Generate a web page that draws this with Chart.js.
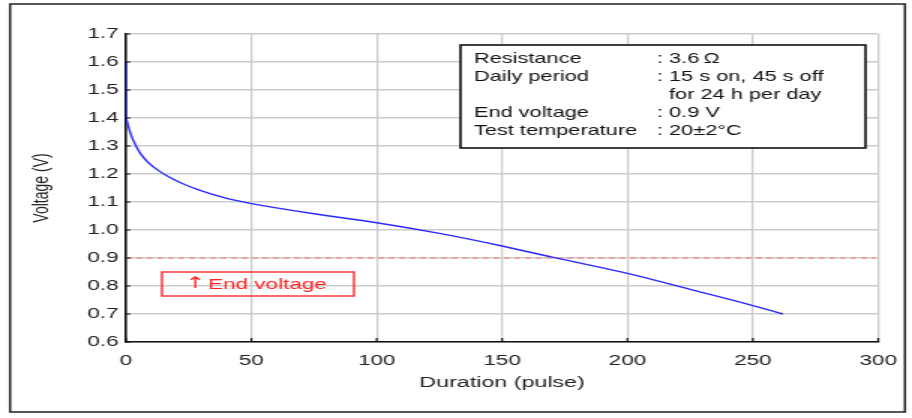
<!DOCTYPE html>
<html>
<head>
<meta charset="utf-8">
<script src="https://cdn.jsdelivr.net/npm/chart.js@4.4.0/dist/chart.umd.min.js"></script>
<style>
  html, body { margin:0; padding:0; background:#fff; overflow:hidden; }
  /* the source picture is stretched sideways, so draw narrow and widen */
  #wrap { width:608px; height:418px; transform:scaleX(1.5); transform-origin:0 0; }
</style>
</head>
<body>
<div id="wrap"><canvas id="dischargeChart"></canvas></div>
<script>
// initial drop at switch-on
const dropPulses = [0, 0];
const dropVolts  = [1.6, 1.40];

// discharge curve
const pulses = [0, 2, 4, 6, 9, 13, 17, 22, 29, 38, 49, 60, 75, 100, 125, 150, 170, 200, 225, 250, 262];
const volts  = [1.40, 1.34, 1.30, 1.27, 1.24, 1.212, 1.19, 1.168, 1.143, 1.118, 1.096, 1.079, 1.058, 1.026, 0.988, 0.943, 0.903, 0.845, 0.788, 0.730, 0.70];

// end voltage reference line
const endPulses = [0, 299];
const endVolts  = [0.9, 0.9];

const xTicks = [0, 50, 100, 150, 200, 250, 300];
const yTicks = [0.6, 0.7, 0.8, 0.9, 1.0, 1.1, 1.2, 1.3, 1.4, 1.5, 1.6, 1.7];

const infoRows = [
  ['Resistance', ': 3.6\u2009Ω'],
  ['Daily period', ': 15 s on, 45 s off'],
  ['', '  for 24 h per day'],
  ['End voltage', ': 0.9 V'],
  ['Test temperature', ': 20±2°C'],
];

const FONT = '"Liberation Sans", Arial, sans-serif';
const toXY = (xs, ys) => xs.map((v,i)=>({x:v, y:ys[i]}));

const frame = {
  id: 'frame',
  beforeDraw(chart) {
    const c = chart.ctx;
    c.save();
    c.fillStyle = '#fff';
    c.fillRect(0, 0, chart.width, chart.height);
    c.strokeStyle = '#222';
    c.lineWidth = 1.5;
    c.strokeRect(6.7, 4, 596.6, 408);
    c.restore();
  },
  afterDraw(chart) {
    const c = chart.ctx;
    const {x, y} = chart.scales;
    const a = chart.chartArea;
    c.save();
    // small inner tick marks on the axes
    c.strokeStyle = '#111';
    c.lineWidth = 1.2;
    c.beginPath();
    xTicks.forEach(v => { const px = x.getPixelForValue(v); c.moveTo(px, a.bottom); c.lineTo(px, a.bottom - 4); });
    yTicks.forEach(v => { const py = y.getPixelForValue(v); c.moveTo(a.left, py); c.lineTo(a.left + 3, py); });
    c.stroke();
    // info box
    c.fillStyle = '#fff';
    c.fillRect(307, 45, 270, 103);
    c.strokeStyle = '#111';
    c.lineWidth = 1.6;
    c.strokeRect(307, 45, 270, 103);
    c.font = '14.5px ' + FONT;
    c.fillStyle = '#111';
    c.textBaseline = 'middle';
    infoRows.forEach((r, i) => {
      const ty = 58.5 + i * 18;
      c.fillText(r[0], 316, ty);
      c.fillText(r[1], 438, ty);
    });
    // end voltage label
    c.strokeStyle = '#ff2a2a';
    c.lineWidth = 1.4;
    c.strokeRect(108, 272, 128, 24);
    c.fillStyle = '#ff2020';
    c.font = '16px "DejaVu Sans", sans-serif';
    c.fillText('\u2191', 123.5, 284);
    c.font = '15px ' + FONT;
    c.fillText('End voltage', 138.7, 284.5);
    c.restore();
  }
};

const lineStyle = { borderColor:'#2a2aff', borderWidth:1.4, pointRadius:0, fill:false };

new Chart(document.getElementById('dischargeChart'), {
  type: 'line',
  data: {
    datasets: [
      { label:'Drop', data: toXY(dropPulses, dropVolts), ...lineStyle },
      { label:'Voltage', data: toXY(pulses, volts), ...lineStyle, cubicInterpolationMode:'monotone' },
      { label:'End voltage', data: toXY(endPulses, endVolts),
        borderColor:'#ff7070', borderWidth:1, borderDash:[4,3], pointRadius:0, fill:false },
    ]
  },
  options: {
    responsive:true, maintainAspectRatio:false, animation:false,
    layout: { padding:{ left:19.6, top:34, right:22, bottom:25.6 } },
    plugins: { legend:{ display:false }, tooltip:{ enabled:false } },
    scales: {
      x: {
        type:'linear', min:0, max:300,
        afterBuildTicks: s => { s.ticks = xTicks.map(v=>({value:v})); },
        afterFit: s => { s.height = 50.4; },
        grid:{ color:'#cccccc', lineWidth:1.3, drawTicks:false },
        border:{ color:'#111', width:1.6 },
        ticks:{ padding:10, color:'#222', font:{ family:FONT, size:15 } },
        title:{ display:true, text:'Duration (pulse)', color:'#222', padding:0, font:{ family:FONT, size:15.5 } }
      },
      y: {
        min:0.6, max:1.7,
        afterBuildTicks: s => { s.ticks = yTicks.map(v=>({value:v})); },
        afterFit: s => { s.width = 64.4; },
        grid:{ color:'#cccccc', lineWidth:1.6, drawTicks:false },
        border:{ color:'#111', width:1.6 },
        ticks:{ padding:5, color:'#222', font:{ family:FONT, size:15 }, callback: v => Number(v).toFixed(1) },
        title:{ display:true, text:'Voltage (V)', color:'#222', padding:0, font:{ family:FONT, size:14 } }
      }
    }
  },
  plugins:[frame]
});
</script>
</body>
</html>
